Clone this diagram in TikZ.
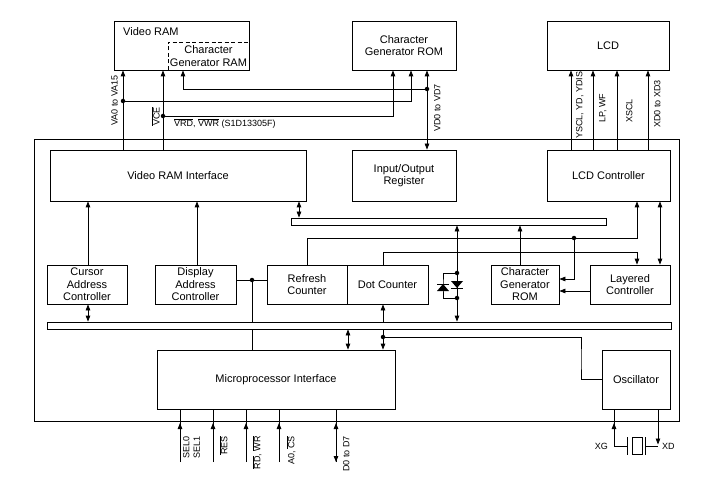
\documentclass[tikz,border=0pt]{standalone}
\usepackage{fontspec}
\setmainfont{Liberation Sans}
\usetikzlibrary{arrows.meta,backgrounds}
\newcommand{\ovl}[1]{$\overline{\mbox{#1}}$}
\tikzset{
  base/.style={draw=black, line width=0.8pt},
  blk/.style={base, fill=white, inner sep=0pt, align=center, font=\fontsize{11}{12.5}\selectfont},
  bus/.style={base, fill=white, inner sep=0pt, minimum height=7pt},
  txt/.style={inner sep=0pt, align=center, font=\fontsize{11}{12.5}\selectfont},
  wire/.style={base, line join=miter},
  arr/.style={wire, -{Triangle[length=6pt,width=4.5pt]}},
  darr/.style={wire, {Triangle[length=6pt,width=4.5pt]}-{Triangle[length=6pt,width=4.5pt]}},
  dot/.style={circle, fill=black, inner sep=0pt, minimum size=4.5pt},
  lab/.style={inner sep=0pt, font=\fontsize{9}{10.5}\selectfont},
  vlab/.style={lab, rotate=90, align=left},
}

\begin{document}
\begin{tikzpicture}[x=1pt,y=-1pt]
  \useasboundingbox (0,0) rectangle (702,484);
  % chip outline
  \draw[base] (34,139) rectangle (679,421);
  \coordinate (chipS) at (0,421);

  % external parts
  \node[blk, minimum width=135pt, minimum height=49pt] (vram) at (181.5,45.5) {};
  \node[txt, anchor=west] (vramt) at (123,32) {Video RAM};
  \draw[base, dash pattern=on 4pt off 2.5pt] (168,70) |- (249,42);
  \node[txt] (cgramt) at (208.5,56) {Character\\Generator RAM};
  \node[blk, minimum width=104pt, minimum height=49pt] (cgrom) at (404,45.5) {Character\\Generator ROM};
  \node[blk, minimum width=122pt, minimum height=49pt] (lcd) at (608,45.5) {LCD};

  % internal blocks
  \node[blk, minimum width=256pt, minimum height=51pt] (vri) at (178,175.5) {Video RAM Interface};
  \node[blk, minimum width=104pt, minimum height=51pt] (ioreg) at (404,175.5) {Input/Output\\Register};
  \node[blk, minimum width=123pt, minimum height=51pt] (lcdc) at (608.5,175.5) {LCD Controller};
  \node[bus, minimum width=315pt] (bus1) at (448.5,221.5) {};
  \node[blk, minimum width=80pt, minimum height=39pt] (cac) at (87,284.5) {Cursor\\Address\\Controller};
  \node[blk, minimum width=81pt, minimum height=39pt] (dac) at (195.5,284.5) {Display\\Address\\Controller};
  \node[blk, minimum width=80pt, minimum height=39pt] (rfc) at (307,284.5) {Refresh\\Counter};
  \node[blk, minimum width=81pt, minimum height=39pt] (dtc) at (387.5,284.5) {Dot Counter};
  \node[blk, minimum width=68pt, minimum height=39pt] (cgr) at (525,284.5) {Character\\Generator\\ROM};
  \node[blk, minimum width=80pt, minimum height=39pt] (lyc) at (630,284.5) {Layered\\Controller};
  \node[bus, minimum width=624pt] (bus2) at (359,325.5) {};
  \node[blk, minimum width=238pt, minimum height=59pt] (mpu) at (276,379.5) {Microprocessor Interface};
  \node[blk, minimum width=68pt, minimum height=59pt] (osc) at (636,379.5) {Oscillator};

  % wire positions
  \coordinate (xva) at (123,0);  \coordinate (xvce) at (163,0);
  \coordinate (xcgr) at (183,0); \coordinate (xvd) at (427,0);
  \coordinate (xc1) at (393,0);  \coordinate (xc2) at (411,0);
  \coordinate (xy1) at (571,0);  \coordinate (xy2) at (593,0);
  \coordinate (xy3) at (617,0);  \coordinate (xy4) at (648,0);
  \coordinate (xb1) at (299,0);  \coordinate (xca) at (88,0);
  \coordinate (xda) at (197,0);  \coordinate (xdc) at (383,0);
  \coordinate (xdi) at (457,0);  \coordinate (xcg) at (520,0);
  \coordinate (xlc2) at (660,0); \coordinate (xb2) at (348,0);
  \coordinate (c1) at (637,238); \coordinate (c2) at (637,252);
  \coordinate (c3) at (0,279);   \coordinate (c4) at (0,291);
  \coordinate (k1) at (581,360); \coordinate (dbr) at (443,285);
  \coordinate (j1) at (427,89);  \coordinate (j2) at (123,101);
  \coordinate (j3) at (163,116); \coordinate (j4) at (252,280);
  \coordinate (j5) at (574,238); \coordinate (j6) at (383,337);
  \coordinate (j7) at (457,273); \coordinate (j8) at (457,298);
  \coordinate (psel) at (180,462); \coordinate (pres) at (213,462);
  \coordinate (prd) at (246,462);  \coordinate (pa0) at (279,462);
  \coordinate (pd0) at (336,462);
  \coordinate (xgc) at (614,446);  \coordinate (pl1) at (627,446);
  \coordinate (pl2) at (645,446);  \coordinate (xdc2) at (658,446);

  \begin{pgfonlayer}{background}
    % to video ram, cg rom and lcd
    \draw[arr] (vri.north -| xva) -- (vram.south -| xva);
    \draw[arr] (vri.north -| xvce) -- (vram.south -| xvce);
    \draw[arr] (j1) -| (vram.south -| xcgr);
    \draw[arr] (j2) -| (cgrom.south -| xc2);
    \draw[arr] (j3) -| (cgrom.south -| xc1);
    \draw[darr] (cgrom.south -| xvd) -- (ioreg.north -| xvd);
    \foreach \xx in {xy1,xy2,xy3,xy4}
      \draw[arr] (lcdc.north -| \xx) -- (lcd.south -| \xx);
    % inside the chip
    \draw[darr] (vri.south -| xb1) -- (bus1.north -| xb1);
    \draw[arr] (cac.north -| xca) -- (vri.south -| xca);
    \draw[arr] (dac.north -| xda) -- (vri.south -| xda);
    \draw[darr] (cac.south -| xca) -- (bus2.north -| xca);
    \draw (dac.east |- j4) -- (rfc.west |- j4);
    \draw (j4) -- (mpu.north -| j4);
    \draw[arr] (rfc.north) |- (c1) -- (lcdc.south -| c1);
    \draw[arr] (dtc.north -| xdc) |- (c2) -- (lyc.north -| c2);
    \draw[arr] (j5) |- (cgr.east |- c3);
    \draw[arr] (lyc.west |- c4) -- (cgr.east |- c4);
    \draw[darr] (lcdc.south -| xlc2) -- (lyc.north -| xlc2);
    \draw[arr] (cgr.north -| xcg) -- (bus1.south -| xcg);
    \draw[darr] (bus1.south -| xdi) -- (bus2.north -| xdi);
    \draw[wire] (j7) -| (dbr) |- (j8);
    \draw[darr] (bus2.south -| xb2) -- (mpu.north -| xb2);
    \draw[darr] (dtc.south -| xdc) -- (mpu.north -| xdc);
    \draw[wire] (j6) -| (k1) |- (osc.west);
    % pins
    \foreach \p in {psel,pres,prd,pa0} {
      \draw[wire] (mpu.south -| \p) -- (\p);
      \draw[arr, shorten >=2pt] (\p) -- (chipS -| \p);
    }
    \draw[arr] (mpu.south -| pd0) -- (pd0);
    \draw[arr, shorten >=2pt] (pd0) -- (chipS -| pd0);
    \draw[wire] (osc.south -| xgc) -- (xgc) -- (pl1);
    \draw[arr, shorten >=2pt] (xgc) -- (chipS -| xgc);
    \draw[wire] (pl2) -- (xdc2);
    \draw[arr, shorten >=1.5pt] (osc.south -| xdc2) -- (xdc2);
  \end{pgfonlayer}

  % diodes
  \fill (451,281) -- (463,281) -- (457,288) -- cycle;
  \draw[base] (451,288) -- (463,288);
  \fill (437,291) -- (449,291) -- (443,284) -- cycle;
  \draw[base] (437,284) -- (449,284);
  % crystal
  \draw[base] (627,437) -- (627,455);
  \draw[base] (632,437) rectangle (642,454);
  \draw[base] (645,437) -- (645,455);

  % junction dots
  \foreach \j in {j1,j2,j3,j4,j5,j6,j7,j8}
    \node[dot] (d\j) at (\j) {};

  % signal labels
  \node[vlab, anchor=south east] (lva) at (118,75) {VA0 to VA15};
  \node[vlab, anchor=south east] (lvce) at (160,107) {\ovl{VCE}};
  \node[lab, anchor=north west] (lvrd) at (174,118.5) {\ovl{VRD}, \ovl{VWR} (S1D13305F)};
  \node[vlab, anchor=north west] (lvd) at (434,132) {VD0 to VD7};
  \node[vlab, anchor=north west] (ly1) at (576,139) {YSCL, YD, YDIS};
  \node[vlab, anchor=north west] (ly2) at (599,123) {LP, WF};
  \node[vlab, anchor=north west] (ly3) at (626,123) {XSCL};
  \node[vlab, anchor=north west] (ly4) at (654,128) {XD0 to XD3};
  \node[vlab, anchor=north east] (lsel) at (183,436) {SEL0\\SEL1};
  \node[vlab, anchor=north east] (lres) at (219,436) {\ovl{RES}};
  \node[vlab, anchor=north east] (lrd) at (252,436) {\ovl{RD}, \ovl{WR}};
  \node[vlab, anchor=north east] (la0) at (286,436) {A0, \ovl{CS}};
  \node[vlab, anchor=north east] (ld0) at (343,436) {D0 to D7};
  \node[lab, anchor=east] (lxg) at (608,446) {XG};
  \node[lab, anchor=west] (lxd) at (662,446) {XD};
\end{tikzpicture}
\end{document}
